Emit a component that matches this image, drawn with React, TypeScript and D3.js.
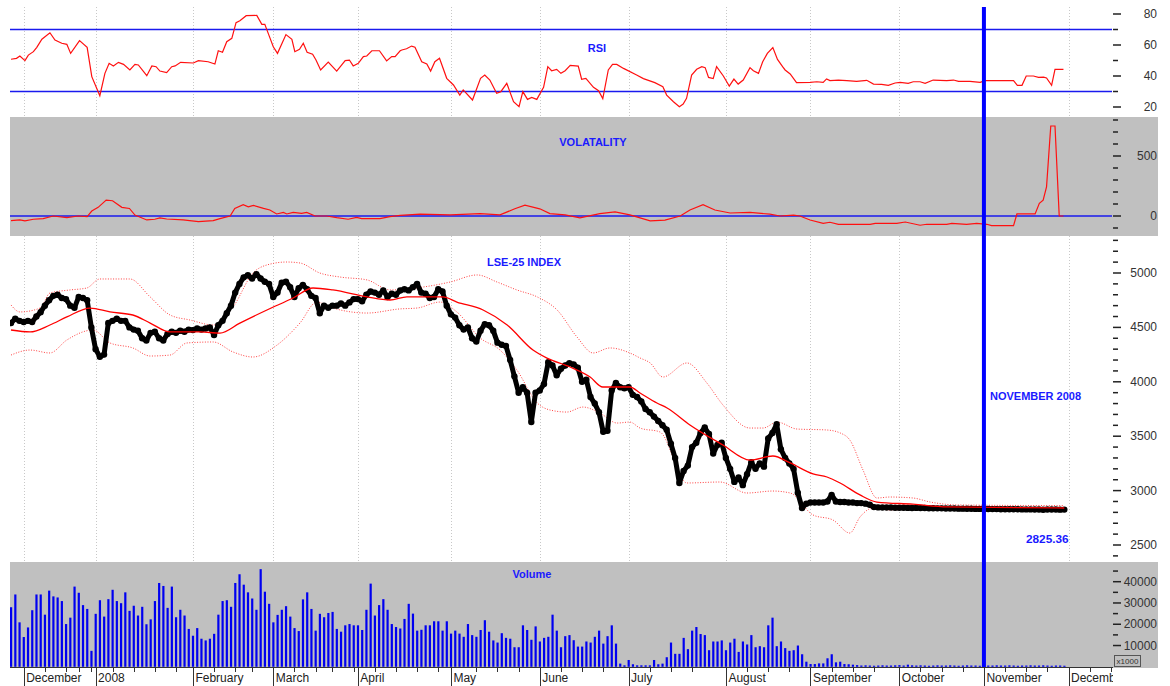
import React from 'react';
import * as d3 from 'd3';

// ---------- DATA ----------
const monthLabels = ['December', '2008', 'February', 'March', 'April', 'May', 'June', 'July', 'August', 'September', 'October', 'November', 'December'];
const monthStartDays = [3, 20, 43, 62, 82, 104, 125, 146, 169, 189, 210, 230, 250];
const weekTickDays = [8, 13, 16, 19, 24, 29, 34, 39, 48, 53, 57, 67, 72, 76, 81, 86, 91, 96, 101, 110, 115, 120, 130, 135, 140, 151, 156, 161, 174, 179, 184, 194, 199, 204, 215, 220, 225, 235, 240, 245, 255, 260];

const closeValues = [
  4540, 4580, 4560, 4550, 4560, 4550, 4600, 4640, 4700, 4750,
  4790, 4800, 4770, 4760, 4700, 4680, 4780, 4770, 4750, 4500,
  4300, 4230, 4250, 4540, 4560, 4580, 4560, 4560, 4500, 4480,
  4470, 4400, 4380, 4450, 4460, 4400, 4380, 4440, 4460, 4450,
  4470, 4460, 4480, 4475, 4490, 4480, 4490, 4500, 4430, 4520,
  4560, 4630, 4700, 4820, 4900, 4960, 4980, 4950, 4990, 4950,
  4920, 4900, 4780, 4820, 4910, 4920, 4870, 4780, 4860, 4890,
  4850, 4790, 4770, 4630, 4700, 4680, 4700, 4700, 4720, 4700,
  4730, 4760, 4760, 4740, 4800, 4830, 4820, 4800, 4840, 4780,
  4810, 4800, 4840, 4850, 4840, 4870, 4900, 4820, 4810, 4770,
  4780, 4850, 4830, 4700, 4620, 4590, 4520, 4480, 4500, 4400,
  4370, 4470, 4530, 4520, 4470, 4360, 4340, 4330, 4200, 4050,
  3900, 3950, 3900, 3630, 3900, 3920, 3980, 4180, 4150, 4060,
  4120, 4150, 4170, 4160, 4130, 4000, 4020, 3860, 3800, 3720,
  3540, 3550, 3920, 3990, 3950, 3940, 3950, 3880, 3860, 3820,
  3750, 3720, 3680, 3640, 3600, 3560, 3430, 3300, 3070, 3180,
  3230, 3400, 3440, 3530, 3580, 3520, 3340, 3420, 3440, 3300,
  3200, 3080, 3120, 3050, 3150, 3260, 3200, 3250, 3220, 3480,
  3530, 3610, 3380, 3300, 3250, 3200, 2980, 2840, 2880, 2890,
  2890, 2890, 2890, 2900, 2960, 2900, 2895, 2895, 2890, 2890,
  2885, 2885, 2880, 2870, 2848, 2846, 2845, 2844, 2845, 2843,
  2842, 2843, 2841, 2840, 2841, 2839, 2840, 2838, 2838, 2837,
  2837, 2836, 2835, 2836, 2834, 2834, 2833, 2833, 2832, 2832,
  2831, 2831, 2830, 2830, 2829, 2829, 2828, 2828, 2828, 2827,
  2827, 2827, 2826, 2826, 2824, 2826, 2826, 2826, 2825, 2825.36,
];

const volumeValues = [
  28000, 34000, 20900, 14000, 18500, 26600, 34000, 34000, 24500, 35800,
  33100, 32600, 30900, 20100, 23100, 37700, 34800, 29000, 27200, 7500,
  24900, 31300, 23600, 31800, 36200, 30900, 29900, 35000, 26300, 28700,
  24100, 28200, 20000, 22300, 30900, 39400, 38000, 27700, 37700, 23300,
  26800, 24100, 17800, 14600, 18200, 13200, 12400, 13200, 15500, 24500,
  30900, 31300, 28200, 39400, 43500, 38600, 35000, 32100, 26800, 45900,
  35300, 29600, 20900, 24400, 26800, 28500, 23600, 18200, 16800, 31700,
  35000, 27200, 17000, 24900, 23300, 25300, 25800, 17800, 16500, 19500,
  20100, 19500, 19500, 17300, 26800, 39100, 24100, 29000, 31800, 26800,
  20100, 18700, 18000, 22500, 29600, 25000, 17000, 17400, 19500, 19500,
  21400, 21400, 17000, 21400, 15600, 17000, 15600, 14100, 20100, 14900,
  14100, 17300, 21900, 16500, 12400, 11400, 15800, 13600, 13200, 9200,
  9200, 19500, 17300, 12700, 19000, 11900, 13600, 14100, 24500, 17000,
  9200, 14400, 14900, 12500, 9500, 9500, 11900, 11400, 14100, 17000,
  10900, 14400, 19500, 10900, 1500, 700, 3200, 1200, 700, 700,
  700, 700, 3200, 1200, 1500, 4500, 11400, 6100, 6100, 13600,
  8300, 17000, 18700, 15400, 14900, 7800, 11900, 11900, 12400, 7800,
  11400, 13200, 7000, 11900, 10500, 14900, 9200, 9700, 9200, 19500,
  23100, 9700, 11900, 8800, 7500, 7800, 10000, 5900, 2400, 1300,
  1300, 1600, 1600, 4000, 5900, 2100, 2400, 1300, 1200, 1000,
  800, 600, 700, 600, 500, 600, 700, 600, 600, 700,
  800, 600, 1000, 700, 600, 700, 600, 500, 600, 700,
  600, 600, 700, 600, 500, 600, 700, 600, 600, 500,
  700, 600, 600, 700, 600, 600, 700, 600, 500, 600,
  600, 700, 600, 600, 700, 600, 500, 600, 600, 500,
];

const rsiDays = [
  0, 1.3, 2.1, 3.3, 4.1, 5.3, 6.1, 7.3, 9.2, 10.4, 12, 13.2, 14.1, 16.2, 18, 19.1, 21, 22.2, 23.2, 24.2,
  25.4, 26.6, 28.1, 29.3, 30.1, 32.1, 33.3, 34.3, 35.2, 36.8, 38, 38.8, 40.1, 43.1, 44.3, 46.6, 48.2, 49, 50, 51,
  52.2, 53.2, 54.1, 55.6, 58.1, 59.3, 60, 61.1, 62, 63, 65, 66.4, 67.1, 68.2, 69.1, 70, 71.3, 72.1, 73.2, 75,
  77, 79, 80, 80.9, 82.1, 83.3, 84.1, 85.3, 87.1, 88.8, 90, 90.8, 92, 92.4, 93.5, 94.7, 95.5, 97.1, 98.3, 99.2,
  100.2, 101.3, 103, 104.6, 106.1, 106.9, 109.1, 111, 112, 113.2, 114.8, 115.8, 117.2, 118.8, 120.1, 121, 122.1, 123.1, 124.3, 125.9,
  126.9, 127.8, 129, 130, 131, 132.2, 134.1, 134.9, 135.9, 137.7, 138.9, 139.9, 141.2, 142.2, 143.2, 144.8, 147.9, 149.5, 152.2, 154.1,
  155, 156.6, 158, 158.9, 159.7, 160.9, 162.1, 163.3, 164.1, 164.9, 166, 166.8, 168.4, 169.8, 170.9, 171.9, 173.1, 174.7, 175.5, 176.7,
  177.7, 178.8, 180.1, 181.2, 182.4, 183, 184.2, 185.7, 188.9, 190.5, 192, 192.8, 193.6, 195.6, 197.6, 199.9, 202.3, 203.9, 205.8, 207.4,
  209, 210.2, 212.1, 213.3, 214.9, 216.1, 218, 221.2, 222.8, 224, 226.7, 229.1, 230.3, 237, 237.9, 239, 240, 241.7, 242.9, 244.1,
  244.8, 246, 246.8, 248.8,
];
const rsiValues = [
  50.8, 51.4, 52.9, 49.9, 53.5, 55.7, 58.5, 63.7, 67.9, 63.2, 61.1, 60.4, 54.6, 62.8, 58.5, 39.6, 27.3, 41.7, 48.2, 46.5,
  48.8, 47.5, 43.9, 47.5, 47.1, 40.2, 46.5, 46, 43.2, 42.2, 46, 46.5, 48.8, 48.4, 49.9, 49.2, 47.7, 56.3, 55.3, 62.1,
  64.3, 74.4, 75.7, 78.9, 79.1, 73.3, 73.3, 65.4, 58.9, 54.6, 66.7, 63.7, 55.7, 57.2, 61.1, 55.3, 54, 50.3, 43.9, 49,
  43.2, 49.9, 50.3, 46.5, 48.2, 52.5, 52.9, 56.3, 56.3, 49.7, 52.5, 52.5, 56.3, 56.8, 57.6, 59.3, 58.6, 49.2, 47.7, 43.2,
  49.2, 51.4, 38.5, 34.2, 27.7, 31.0, 24.5, 38.5, 40.6, 37.4, 28.8, 29.9, 35.3, 23.4, 20.2, 29.9, 24.9, 26.2, 24.9, 32.7,
  46.0, 43.4, 44.3, 41.7, 43.4, 46.9, 46.4, 37.9, 38.5, 32.7, 30.5, 25.4, 43.9, 47.5, 47.5, 44.9, 40.6, 38.3, 35.7, 33.1,
  27.7, 23.4, 20.2, 21.9, 25.6, 40.6, 44.3, 46.0, 45.4, 39.1, 38.3, 46.0, 40.0, 33.5, 38.0, 34.8, 37.4, 45.4, 43.4, 41.7,
  49.2, 54.6, 58.3, 50.7, 46.0, 43.9, 41.3, 35.7, 35.9, 36.3, 35.9, 38.1, 37.0, 37.4, 37.0, 36.5, 37.2, 34.8, 34.6, 34.0,
  35.5, 35.9, 35.3, 36.3, 36.3, 35.3, 37.4, 37.0, 37.4, 36.5, 36.5, 35.9, 37.0, 37.0, 34.0, 34.0, 40.0, 40.0, 39.1, 39.3,
  38.7, 34.0, 44.3, 44.3,
];

const volatilityDays = [
  0, 2.1, 3.3, 5.3, 7.6, 10, 13.2, 15.9, 18, 19.1, 20.6, 22.5, 24, 26.2, 28, 29.3, 32.1, 34, 35.2, 36.8,
  40.7, 44.3, 47.8, 49.4, 51.8, 52.9, 54.9, 56.1, 57.3, 59.7, 61.2, 62.8, 64.4, 65.2, 66.7, 68.7, 69.9, 71.9, 74.6, 77,
  79.7, 81.7, 82.9, 87.2, 89.6, 92, 96.7, 103.8, 110.9, 115.6, 119.1, 121.5, 125, 127.4, 131, 134.5, 139.2, 142.8, 146.3, 151.1,
  154.6, 158.2, 160.5, 163.6, 166.4, 170, 174.7, 179.4, 181.8, 185, 186.5, 188.9, 192, 193.6, 195.6, 203.1, 204.3, 209.4, 211.4, 214.9,
  216.5, 221.2, 222.4, 225.9, 228.3, 230.7, 231.8, 237, 237.8, 242.1, 243.1, 244, 244.8, 245.8, 246.8, 247.8, 248.8,
];
const volatilityValues = [
  -38.6, -33, -41, -27, -22, 0, -14, 0, -5.5, 41, 72, 132, 127, 72, 63, 8, -33, -27, -16.5, -25,
  -33, -47, -38.6, -22, 0, 63, 94, 77, 88, 63, 50, 17, 30, 17, 30, 22, 30, 0, 0, -14,
  -27, -11, -22, -22, -5.5, 5, 15, 10, 20, 10, 60, 90, 60, 20, 10, -15, 20, 35, 10, -40,
  -35, 0, 50, 95, 50, 25, 30, 15, 0, 8, 0, -33, -61, -52, -69, -69, -61, -61, -50, -77,
  -69, -69, -61, -69, -61, -69, -80, -80, 17, 17, 105, 132, 242, 750, 750, 0, 0,
];

const maDays = [0, 4.5, 9.2, 13.2, 18.7, 23.4, 28.8, 32.9, 37.6, 44.7, 49.4, 54.1, 60.5, 66.7, 71.4, 76.1, 84.2, 89.6, 93.6, 102.1, 105.4, 111.6, 117.3, 123.4, 126.7, 132.2, 136.9, 139.9, 146.3, 148.7, 152.7, 155.1, 160.5, 168.3, 174.7, 180.1, 184.2, 189.6, 192.9, 196, 200.7, 204.7, 213.2, 221.3, 249];
const maValues = [4476, 4458, 4522, 4596, 4678, 4642, 4614, 4540, 4458, 4458, 4448, 4540, 4660, 4770, 4862, 4844, 4780, 4752, 4780, 4780, 4733, 4660, 4522, 4292, 4218, 4136, 4044, 3952, 3952, 3897, 3805, 3759, 3603, 3419, 3281, 3318, 3254, 3153, 3125, 3070, 2960, 2895, 2875, 2850, 2840];

const upperDays = [0, 2.1, 6.9, 9.2, 13.9, 17.9, 21.0, 28.1, 32.9, 37.6, 42.3, 47.8, 52.5, 57.2, 60.5, 65.2, 68.3, 73, 77.8, 84.2, 89.6, 97.4, 103.8, 110.2, 114.9, 119.6, 124.4, 129.1, 133.8, 137.6, 141.6, 146.3, 148.7, 151.1, 154.1, 159.8, 164.5, 168.3, 174.7, 177.8, 181.1, 185.8, 192.9, 196, 198.3, 201.4, 204.7, 207.8, 213.2, 217.3, 223.6, 249];
const upperValues = [4706, 4642, 4678, 4816, 4844, 4862, 4945, 4945, 4780, 4614, 4568, 4522, 4688, 5000, 5074, 5101, 5092, 5000, 4963, 4936, 4844, 4871, 4917, 4982, 4917, 4844, 4780, 4660, 4412, 4265, 4311, 4265, 4219, 4173, 4044, 4173, 3989, 3787, 3575, 3575, 3630, 3566, 3557, 3530, 3465, 3190, 2932, 2941, 2932, 2895, 2868, 2862];

const lowerDays = [0, 4.5, 9.2, 13.2, 19.4, 23.4, 28.8, 32.9, 37.6, 41.6, 47.8, 52.5, 57.2, 62.9, 68.3, 72.3, 76.1, 84.2, 92, 96, 101.4, 105.4, 110.9, 115.6, 119.6, 124.4, 127.4, 131.4, 135.2, 139.2, 143.3, 146.3, 148.7, 153.4, 159.8, 167.6, 174, 180.1, 184.2, 189.6, 194.3, 198.3, 200.7, 203.8, 207.8, 217.3, 223.6, 249];
const lowerValues = [4246, 4292, 4265, 4384, 4476, 4357, 4311, 4237, 4246, 4357, 4366, 4274, 4228, 4338, 4540, 4733, 4678, 4632, 4670, 4678, 4733, 4642, 4403, 4292, 4108, 3805, 3741, 3722, 3768, 3713, 3621, 3630, 3575, 3539, 3070, 3079, 2978, 2996, 2978, 2776, 2730, 2610, 2757, 2840, 2822, 2840, 2850, 2845];

const rsiTicks = [20, 30, 40, 50, 60, 70, 80];
const rsiLabels = [20, 40, 60, 80];
const rsiBands = [30, 70];
const volatilityTicks = [-100, 0, 100, 200, 300, 400, 500, 600, 700, 800];
const volatilityLabels = [0, 500];
const priceTicks = [2400, 2500, 2600, 2700, 2800, 2900, 3000, 3100, 3200, 3300, 3400, 3500, 3600, 3700, 3800, 3900, 4000, 4100, 4200, 4300, 4400, 4500, 4600, 4700, 4800, 4900, 5000, 5100, 5200, 5300];
const priceLabels = [2500, 3000, 3500, 4000, 4500, 5000];
const volumeTicks = [10000, 15000, 20000, 25000, 30000, 35000, 40000, 45000];
const volumeLabels = [10000, 20000, 30000, 40000];
const lastValueLabel = '2825.36';
const markerLabel = 'NOVEMBER 2008';
const markerDay = 230;

// ---------- CHART ----------
const FONT = '"Liberation Sans", Arial, Helvetica, sans-serif';
const W = 1170;
const H = 686;
const PL = 10;
const PR = 1112;
const BGR = 1158;

export default function App() {
  const x = d3.scaleLinear().domain([0, 249]).range([11, 1064.3]);
  const yRsi = d3.scaleLinear().domain([20, 80]).range([107, 14]);
  const yVol = d3.scaleLinear().domain([0, 500]).range([216, 156]);
  const yPrice = d3.scaleLinear().domain([2500, 5000]).range([545, 273]);
  const yVolume = d3.scaleLinear().domain([0, 40000]).range([666.8, 581.7]);

  const pairs = (a: number[], b: number[]) => a.map((d, i) => [d, b[i]] as [number, number]);

  const rsiLine = d3.line<[number, number]>().x(d => x(d[0])).y(d => yRsi(d[1]));
  const volLine = d3.line<[number, number]>().x(d => x(d[0])).y(d => yVol(d[1]));
  const priceLine = d3.line<[number, number]>().x(d => x(d[0])).y(d => yPrice(d[1]));
  const smoothLine = d3.line<[number, number]>().x(d => x(d[0])).y(d => yPrice(d[1])).curve(d3.curveMonotoneX);

  const closePairs = closeValues.map((v, i) => [i, v] as [number, number]);

  const rightAxis = (ticks: number[], labels: number[], scale: d3.ScaleLinear<number, number>, key: string) => (
    <g key={key}>
      {ticks.map(t => {
        const major = labels.includes(t);
        return (
          <line key={'t' + t} x1={1113} x2={major ? 1121 : 1118} y1={scale(t)} y2={scale(t)} stroke="#222" strokeWidth={1.5} />
        );
      })}
      {labels.map(t => (
        <text key={'l' + t} x={1157} y={scale(t) + 4} textAnchor="end" fontSize={12} fill="#333" fontFamily={FONT}>{t}</text>
      ))}
    </g>
  );

  const gridLines = (y1: number, y2: number, key: string) => (
    <g key={key}>
      {monthStartDays.map(d => (
        <line key={d} x1={Math.round(x(d)) + 0.5} x2={Math.round(x(d)) + 0.5} y1={y1} y2={y2} stroke="#c8c8c8" strokeDasharray="1,2" />
      ))}
    </g>
  );

  const titleStyle = { fontFamily: FONT, fontWeight: 700, fontSize: 11, fill: '#1a1aff' } as const;

  return (
    <svg width={W} height={H} style={{ position: 'absolute', left: 0, top: 0, background: '#fff' }}>
      <defs>
        <clipPath id="axisClip"><rect x={PL} y={668} width={1113 - PL} height={18} /></clipPath>
        <clipPath id="rsiClip"><rect x={PL} y={0} width={PR - PL} height={117} /></clipPath>
        <clipPath id="priceClip"><rect x={PL} y={236} width={PR - PL} height={326} /></clipPath>
      </defs>
      <rect x={0} y={0} width={W} height={H} fill="#fff" />

      {/* RSI panel */}
      {gridLines(7, 117, 'g1')}
      {rsiBands.map(b => (
        <line key={b} x1={PL} x2={PR} y1={yRsi(b)} y2={yRsi(b)} stroke="#1a1aee" strokeWidth={1.5} />
      ))}
      <path d={rsiLine(pairs(rsiDays, rsiValues)) || ''} fill="none" stroke="#ff1010" strokeWidth={1.2} clipPath="url(#rsiClip)" />
      <text x={597} y={52} textAnchor="middle" {...titleStyle}>RSI</text>
      {rightAxis(rsiTicks, rsiLabels, yRsi, 'a1')}

      {/* Volatility panel */}
      <rect x={PL} y={117} width={BGR - PL} height={119} fill="#c0c0c0" />
      <line x1={PL} x2={PR} y1={yVol(0)} y2={yVol(0)} stroke="#1a1aee" strokeWidth={1.5} />
      <path d={volLine(pairs(volatilityDays, volatilityValues)) || ''} fill="none" stroke="#ff1010" strokeWidth={1.2} />
      <text x={593} y={146} textAnchor="middle" {...titleStyle}>VOLATALITY</text>
      {rightAxis(volatilityTicks, volatilityLabels, yVol, 'a2')}

      {/* Price panel */}
      {gridLines(236, 562, 'g2')}
      <g clipPath="url(#priceClip)">
        <path d={smoothLine(pairs(upperDays, upperValues)) || ''} fill="none" stroke="#ff4040" strokeWidth={1} strokeDasharray="1,1.6" />
        <path d={smoothLine(pairs(lowerDays, lowerValues)) || ''} fill="none" stroke="#ff4040" strokeWidth={1} strokeDasharray="1,1.6" />
        <path d={priceLine(closePairs) || ''} fill="none" stroke="#000" strokeWidth={5} strokeLinejoin="round" strokeLinecap="round" />
        {closePairs.map(d => (
          <circle key={d[0]} cx={x(d[0])} cy={yPrice(d[1])} r={3.2} fill="#000" />
        ))}
        <path d={smoothLine(pairs(maDays, maValues)) || ''} fill="none" stroke="#ff0000" strokeWidth={1.3} />
      </g>
      <text x={524} y={266} textAnchor="middle" {...titleStyle}>LSE-25 INDEX</text>
      <text x={990} y={400} {...titleStyle}>{markerLabel}</text>
      <text x={1026} y={543} {...titleStyle} fontSize={11.8}>{lastValueLabel}</text>
      {rightAxis(priceTicks, priceLabels, yPrice, 'a3')}

      {/* Volume panel */}
      <rect x={PL} y={562} width={BGR - PL} height={106} fill="#c0c0c0" />
      {volumeValues.map((v, i) => (
        <rect key={i} x={x(i) - 1} y={yVolume(v)} width={2.2} height={yVolume(0) - yVolume(v)} fill="#0000f0" />
      ))}
      <text x={532} y={578} textAnchor="middle" {...titleStyle}>Volume</text>
      {rightAxis(volumeTicks, volumeLabels, yVolume, 'a4')}
      <rect x={1114.5} y={655.5} width={26} height={11} fill="none" stroke="#555" strokeWidth={1} />
      <text x={1127.5} y={664} textAnchor="middle" fontSize={8} fill="#333" fontFamily={FONT}>x1000</text>

      {/* Marker line */}
      <line x1={x(markerDay)} x2={x(markerDay)} y1={7} y2={668} stroke="#0000ff" strokeWidth={4} />

      {/* X axis */}
      <line x1={PL} x2={1113} y1={667.5} y2={667.5} stroke="#333" strokeWidth={1} />
      <g clipPath="url(#axisClip)">
        {weekTickDays.map(d => (
          <line key={d} x1={Math.round(x(d)) + 0.5} x2={Math.round(x(d)) + 0.5} y1={668} y2={672} stroke="#333" />
        ))}
        {monthStartDays.map((d, i) => (
          <g key={d}>
            <line x1={Math.round(x(d)) + 0.5} x2={Math.round(x(d)) + 0.5} y1={668} y2={686} stroke="#333" />
            <text x={x(d) + 2.5} y={682} fontSize={12} fill="#222" fontFamily={FONT}>{monthLabels[i]}</text>
          </g>
        ))}
      </g>
    </svg>
  );
}
